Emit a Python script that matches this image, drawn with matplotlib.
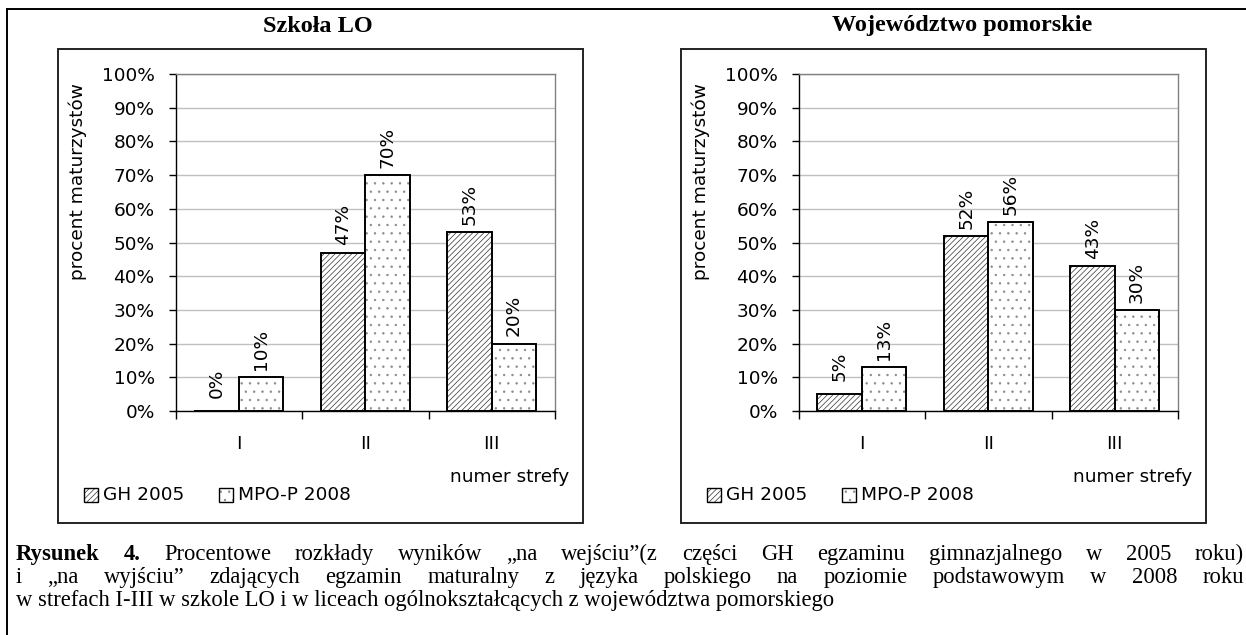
import matplotlib
matplotlib.use('Agg')
import matplotlib.pyplot as plt
from matplotlib.patches import Rectangle
from matplotlib.lines import Line2D
import numpy as np

# ---------------- data ----------------
categories = ['I', 'II', 'III']
series_names = ['GH 2005', 'MPO-P 2008']
szkola_gh = [0, 47, 53]
szkola_mpo = [10, 70, 20]
woj_gh = [5, 52, 43]
woj_mpo = [13, 56, 30]
panel_titles = ['Szkoła LO', 'Województwo pomorskie']
y_ticks = list(range(0, 101, 10))
y_tick_labels = [f'{v}%' for v in y_ticks]
y_label = 'procent maturzystów'
x_label = 'numer strefy'
caption_bold = 'Rysunek 4.'
caption_line1 = 'Procentowe rozkłady wyników „na wejściu”(z części GH egzaminu gimnazjalnego w 2005 roku)'
caption_line2 = 'i „na wyjściu” zdających egzamin maturalny z języka polskiego na poziomie podstawowym w 2008 roku'
caption_line3 = 'w strefach I-III w szkole LO i w liceach ogólnokształcących z województwa pomorskiego'

# ---------------- layout ----------------
W, H = 1246, 635
plt.rcParams['font.family'] = ['DejaVu Sans']
plt.rcParams['hatch.linewidth'] = 0.5
SANS = 13.3
fig = plt.figure(figsize=(W / 100, H / 100), dpi=100)


def fx(px):
    return px / W


def fy(py):
    return 1 - py / H


GH_HATCH = '//////'
MPO_HATCH = '..'


def draw_panel(box_left, title, gh, mpo, title_cx):
    plot_left = box_left + 117.5
    plot_right = box_left + 497
    top, bottom = 74, 411
    ax = fig.add_axes([fx(plot_left), fy(bottom), (plot_right - plot_left) / W, (bottom - top) / H])
    x = np.arange(len(categories))
    w = 0.35
    # GH bars
    ax.bar(x - w / 2, gh, w, facecolor='white', edgecolor='#333333', hatch=GH_HATCH, linewidth=0, zorder=2)
    ax.bar(x - w / 2, gh, w, fill=False, edgecolor='black', linewidth=1.4, zorder=3)
    # MPO bars
    ax.bar(x + w / 2, mpo, w, facecolor='white', edgecolor='#8a8a8a', hatch=MPO_HATCH, linewidth=0, zorder=2)
    ax.bar(x + w / 2, mpo, w, fill=False, edgecolor='black', linewidth=1.4, zorder=3)
    for xs, vals in ((x - w / 2, gh), (x + w / 2, mpo)):
        for xc, v in zip(xs, vals):
            ax.annotate(f'{v}%', (xc, v), xytext=(0, 20), textcoords='offset points',
                        rotation=90, ha='center', va='center', fontsize=SANS)
    ax.set_xlim(-0.5, len(categories) - 0.5)
    ax.set_ylim(0, 100)
    ax.set_yticks(y_ticks)
    ax.set_yticklabels(y_tick_labels)
    ax.yaxis.grid(True, color='#c0c0c0', linewidth=1)
    ax.set_axisbelow(True)
    ax.tick_params(axis='y', direction='out', length=5, width=1, pad=10, labelsize=SANS)
    ax.set_xticks(np.arange(len(categories) + 1) - 0.5)
    ax.set_xticklabels([''] * (len(categories) + 1))
    ax.set_xticks(x, minor=True)
    ax.set_xticklabels(categories, minor=True)
    ax.tick_params(axis='x', which='major', direction='out', length=6, width=1)
    ax.tick_params(axis='x', which='minor', length=0, pad=17, labelsize=SANS)
    for s in ('left', 'bottom'):
        ax.spines[s].set_color('black')
        ax.spines[s].set_linewidth(1)
    for s in ('top', 'right'):
        ax.spines[s].set_color('#808080')
        ax.spines[s].set_linewidth(1)
    # box
    fig.add_artist(Rectangle((fx(box_left), fy(523)), 525 / W, (523 - 49) / H,
                             transform=fig.transFigure, fill=False, edgecolor='#222222', linewidth=1.4))
    fig.text(fx(title_cx), fy(26), title, ha='center', va='center',
             family='Liberation Serif', weight='bold', fontsize=17.5)
    fig.text(fx(plot_left - 98), fy(182), y_label, rotation=90, ha='center', va='center', fontsize=SANS)
    fig.text(fx(plot_right + 14), fy(477), x_label, ha='right', va='center', fontsize=SANS)
    # legend
    ly = 495
    for i, (name, hatch, hc) in enumerate(zip(series_names, (GH_HATCH, MPO_HATCH), ('#333333', '#8a8a8a'))):
        sx = box_left + (26 if i == 0 else 161)
        fig.add_artist(Rectangle((fx(sx), fy(ly + 7)), 14 / W, 14 / H, transform=fig.transFigure,
                                 facecolor='white', edgecolor=hc, hatch=hatch, linewidth=0))
        fig.add_artist(Rectangle((fx(sx), fy(ly + 7)), 14 / W, 14 / H, transform=fig.transFigure,
                                 fill=False, edgecolor='black', linewidth=1))
        fig.text(fx(sx + 19), fy(ly), name, ha='left', va='center', fontsize=SANS)


draw_panel(58, panel_titles[0], szkola_gh, szkola_mpo, 318)
draw_panel(681, panel_titles[1], woj_gh, woj_mpo, 962)

# outer frame (top and left)
fig.add_artist(Line2D([fx(7), 1], [fy(9), fy(9)], transform=fig.transFigure, color='black', linewidth=1.4))
fig.add_artist(Line2D([fx(7), fx(7)], [fy(9), 0], transform=fig.transFigure, color='black', linewidth=1.4))

# caption, justified
CAP = 16.3
renderer = fig.canvas.get_renderer()
L, R = 16, 1244


def justify(words, base, bold_count=0):
    texts = []
    for i, wd in enumerate(words):
        t = fig.text(0, fy(base), wd, ha='left', va='baseline', family='Liberation Serif',
                     weight='bold' if i < bold_count else 'normal', fontsize=CAP)
        texts.append(t)
    widths = [t.get_window_extent(renderer).width for t in texts]
    gap = (R - L - sum(widths)) / (len(words) - 1)
    xpos = L
    for t, wdt in zip(texts, widths):
        t.set_x(fx(xpos))
        xpos += wdt + gap


justify(caption_bold.split() + caption_line1.split(), 560, bold_count=2)
justify(caption_line2.split(), 583)
fig.text(fx(L), fy(606), caption_line3, ha='left', va='baseline', family='Liberation Serif', fontsize=CAP)

fig.savefig('out.png', dpi=100)
